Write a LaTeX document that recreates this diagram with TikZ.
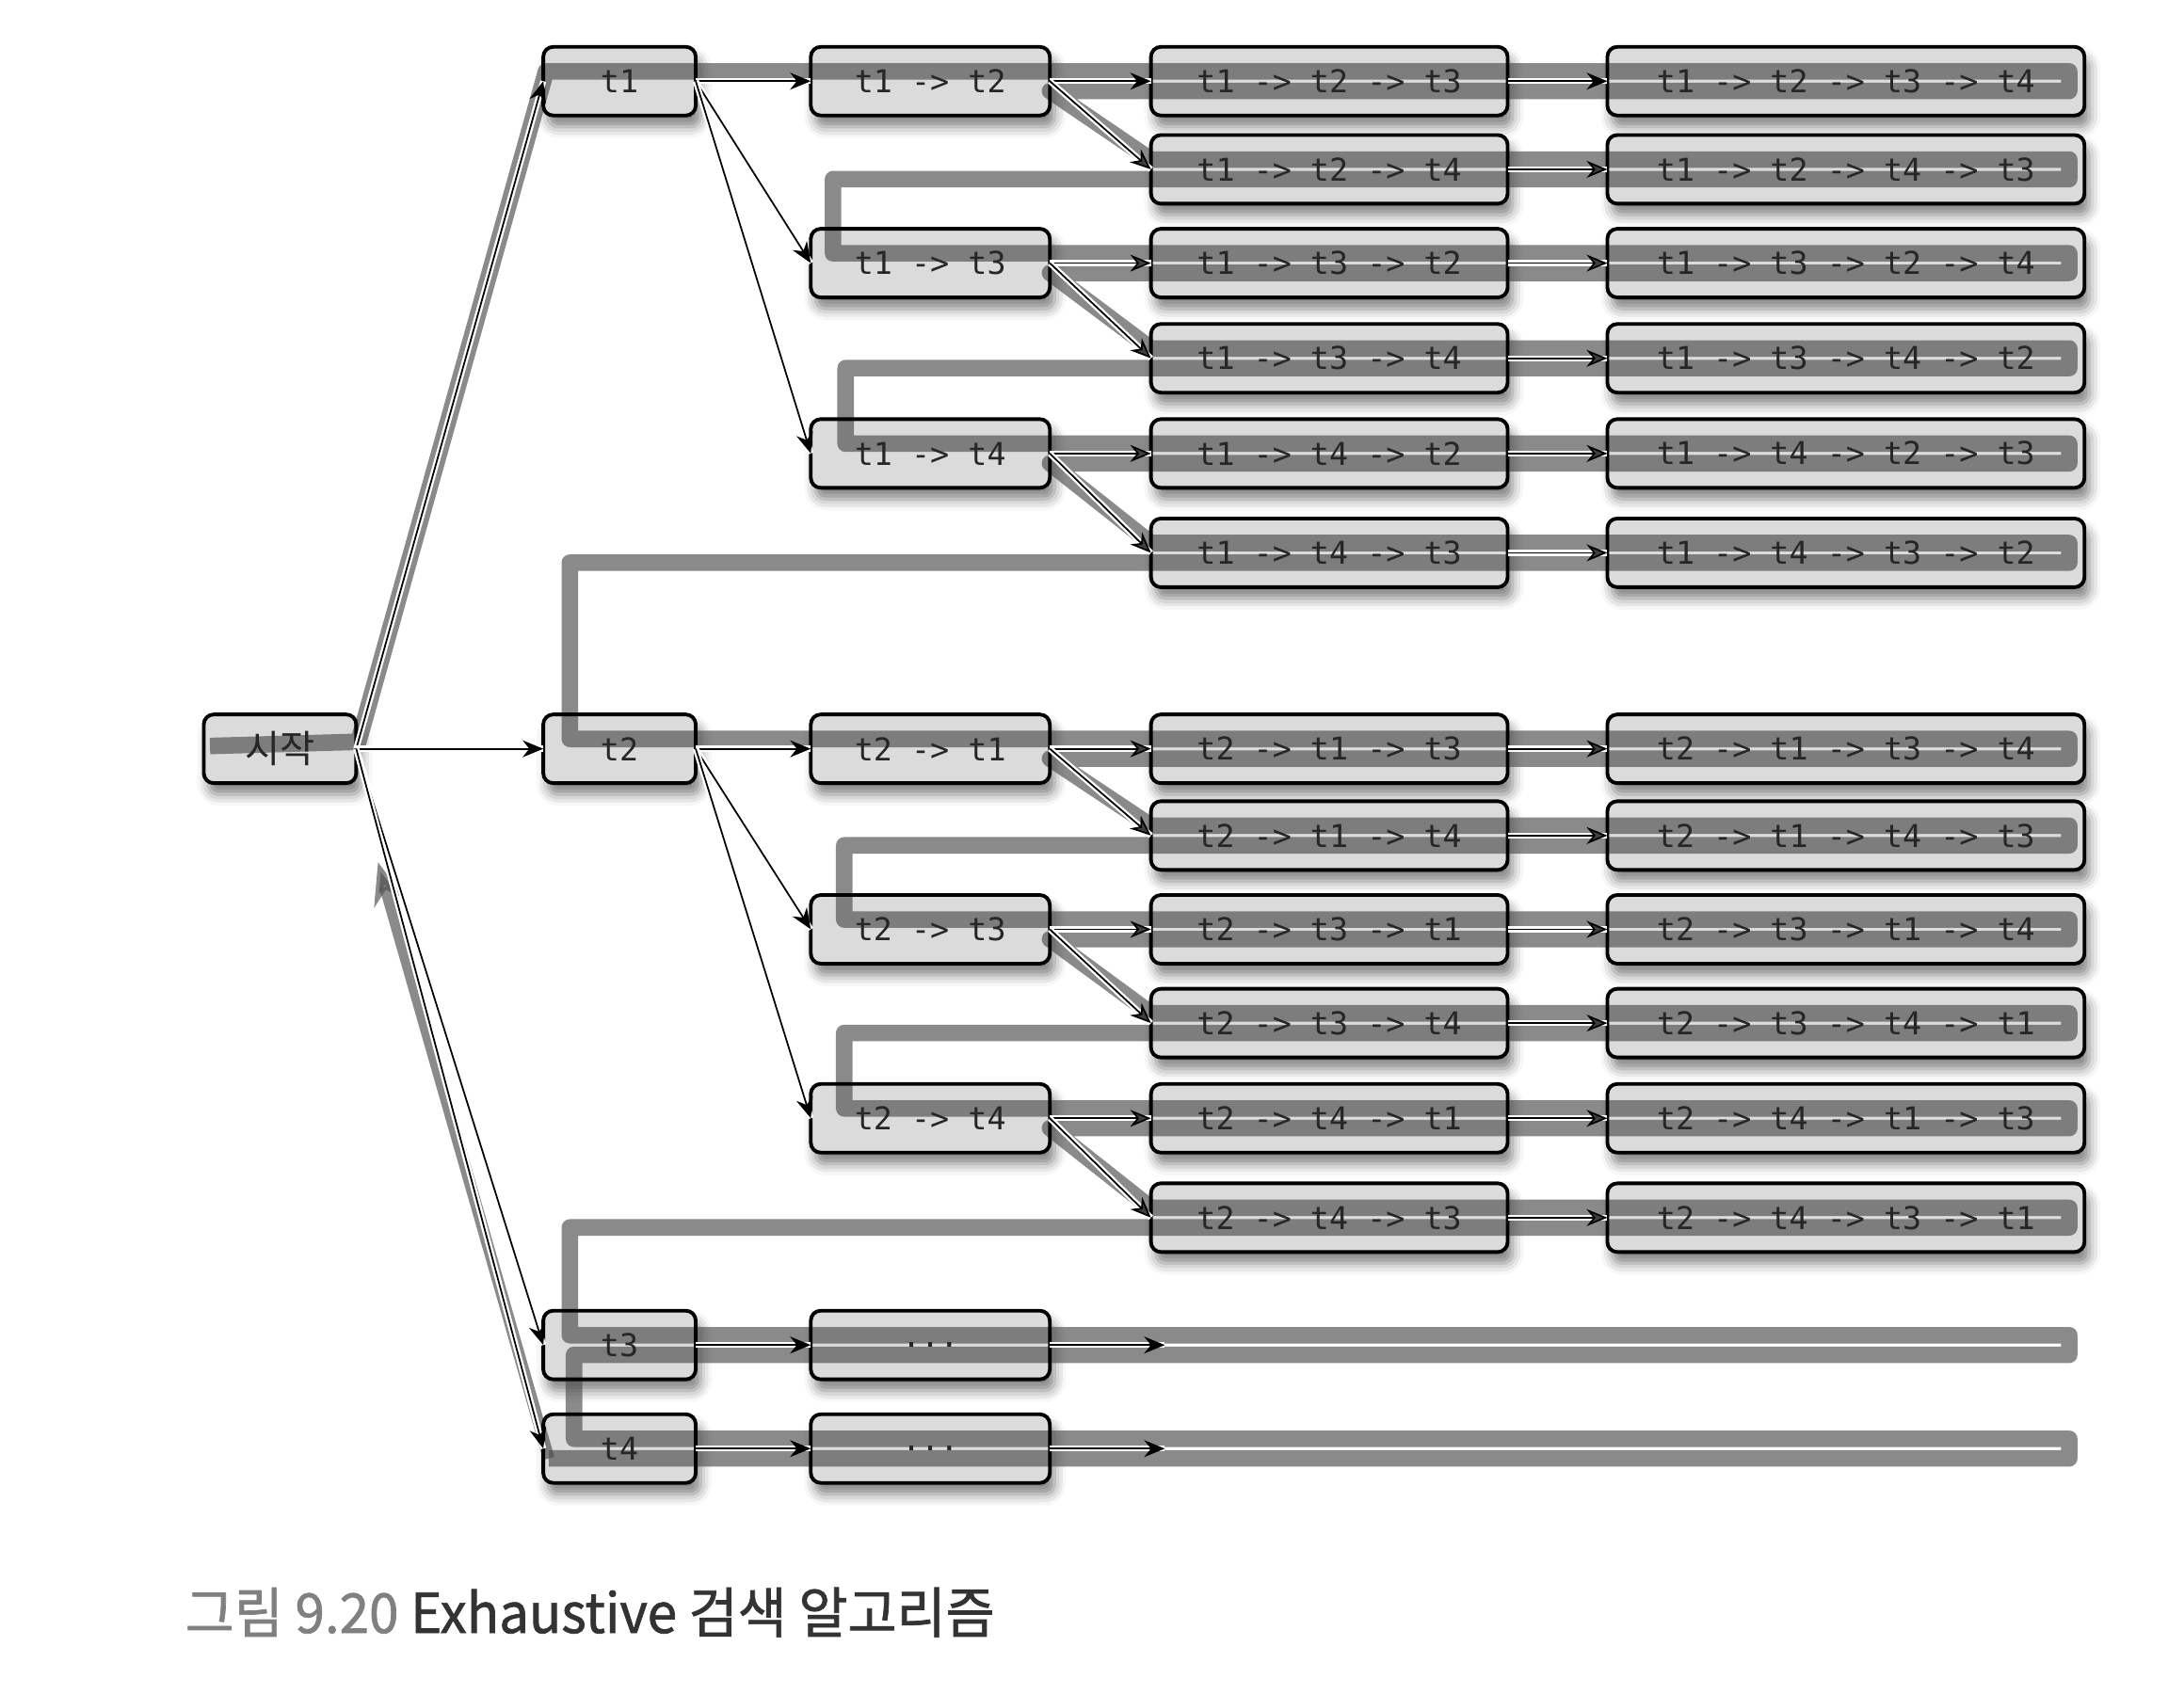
\documentclass[tikz,border=0pt]{standalone}
\usepackage{fontspec}
\newfontfamily\boxfont{DejaVu Sans Mono}
\newfontfamily\krfont{Noto Sans CJK KR}
\newfontfamily\capfont[FakeBold=1.2,FakeStretch=0.97]{Noto Sans CJK KR}
\usetikzlibrary{arrows.meta,shadows.blur}
\pgfdeclarelayer{fills}
\pgfdeclarelayer{tours}
\pgfsetlayers{fills,tours,main}

\tikzset{
  taskbox/.style={draw, line width=1.1pt, rounded corners=3pt, inner sep=0pt, outer sep=0pt,
    minimum height=0.73cm, text=black!85, font=\boxfont\fontsize{9.5}{11}\selectfont},
  lvone/.style={taskbox, minimum width=1.62cm},
  lvtwo/.style={taskbox, minimum width=2.54cm},
  lvthree/.style={taskbox, minimum width=3.79cm},
  lvfour/.style={taskbox, minimum width=5.07cm},
  boxfill/.style={fill=gray!28, rounded corners=3pt,
    blur shadow={shadow xshift=0.5mm, shadow yshift=-1.2mm, shadow blur radius=1.2mm, shadow opacity=50}},
  edgeline/.style={line width=0.5pt, -{Stealth[length=2.2mm,width=1.8mm]},
    preaction={draw=white, line width=1.8pt, -}},
  tour/.style={line width=5pt, black!70, opacity=0.65, line join=round},
}

\begin{document}
\begin{tikzpicture}[x=0.014872cm, y=-0.014872cm]
		\useasboundingbox (0,0) rectangle (1560,1210);
		% first column
		\node [lvone, font=\krfont\fontsize{11.5}{13}\selectfont] (start) at (200,535) {시작};
		\node [lvone] (t1) at (442.5,58) {t1};
		\node [lvone] (t2) at (442.5,535) {t2};
		\node [lvone] (t3) at (442.5,961) {t3};
		\node [lvone] (t4) at (442.5,1035) {t4};
		% second column
		\node [lvtwo] (t12) at (664.5,58) {t1 -> t2};
		\node [lvtwo] (t13) at (664.5,188) {t1 -> t3};
		\node [lvtwo] (t14) at (664.5,324) {t1 -> t4};
		\node [lvtwo] (t21) at (664.5,535) {t2 -> t1};
		\node [lvtwo] (t23) at (664.5,664) {t2 -> t3};
		\node [lvtwo] (t24) at (664.5,799) {t2 -> t4};
		\node [lvtwo] (t3x) at (664.5,961) {...};
		\node [lvtwo] (t4x) at (664.5,1035) {...};
		\coordinate (e3) at (832,961);
		\coordinate (e4) at (832,1035);
		% links
		\draw [edgeline] (start.east) to (t1.west);
		\draw [edgeline] (start.east) to (t2.west);
		\draw [edgeline] (start.east) to (t3.west);
		\draw [edgeline] (start.east) to (t4.west);
		\foreach \p in {2,3,4} \draw [edgeline] (t1.east) to (t1\p.west);
		\foreach \p in {1,3,4} \draw [edgeline] (t2.east) to (t2\p.west);
		\draw [edgeline] (t3.east) to (t3x.west);
		\draw [edgeline] (t4.east) to (t4x.west);
		\draw [edgeline] (t3x.east) to (e3);
		\draw [edgeline] (t4x.east) to (e4);
		% third and fourth column
		\foreach \a/\b/\c/\d/\y in {1/2/3/4/58, 1/2/4/3/121, 1/3/2/4/188, 1/3/4/2/256, 1/4/2/3/324, 1/4/3/2/395,
				2/1/3/4/535, 2/1/4/3/597, 2/3/1/4/664, 2/3/4/1/731, 2/4/1/3/799, 2/4/3/1/870} {
			\node [lvthree] (t\a\b\c) at (949.5,\y) {t\a{} -> t\b{} -> t\c};
			\node [lvfour] (t\a\b\c\d) at (1318.5,\y) {t\a{} -> t\b{} -> t\c{} -> t\d};
			\draw [edgeline] (t\a\b.east) to (t\a\b\c.west);
			\draw [edgeline] (t\a\b\c.east) to (t\a\b\c\d.west);
			\begin{pgfonlayer}{fills}
				\path [boxfill] (t\a\b\c.south west) rectangle (t\a\b\c.north east);
				\path [boxfill] (t\a\b\c\d.south west) rectangle (t\a\b\c\d.north east);
			\end{pgfonlayer}
		}
		\begin{pgfonlayer}{fills}
			\foreach \n in {start,t1,t2,t3,t4,t12,t13,t14,t21,t23,t24,t3x,t4x}
				\path [boxfill] (\n.south west) rectangle (\n.north east);
		\end{pgfonlayer}
		% search order
		\begin{pgfonlayer}{tours}
			\draw [tour] (150,533) -- (256,530) -- (390,51) -- (1478,51) -- (1478,65) -- (750,65)
				-- (822,114) -- (1478,114) -- (1478,128) -- (595,128) -- (595,181) -- (1478,181) -- (1478,195) -- (750,195)
				-- (822,249) -- (1478,249) -- (1478,263) -- (604,263) -- (604,317) -- (1478,317) -- (1478,331) -- (750,331)
				-- (822,388) -- (1478,388) -- (1478,402) -- (407,402) -- (407,528) -- (1478,528) -- (1478,542) -- (750,542)
				-- (822,590) -- (1478,590) -- (1478,604) -- (603,604) -- (603,657) -- (1478,657) -- (1478,671) -- (750,671)
				-- (822,724) -- (1478,724) -- (1478,738) -- (603,738) -- (603,792) -- (1478,792) -- (1478,806) -- (750,806)
				-- (822,863) -- (1478,863) -- (1478,877) -- (407,877) -- (407,954) -- (1478,954) -- (1478,968) -- (410,968)
				-- (410,1028) -- (1478,1028) -- (1478,1042) -- (392,1042);
			\draw [tour, line width=3.5pt, -{Stealth[length=4.5mm,width=3.4mm]}] (392,1042) -- (270,616);
		\end{pgfonlayer}
		% caption
		\node [anchor=west, text=black!80, font=\capfont\fontsize{16.6}{19}\selectfont] (caption) at (124,1152)
			{\textcolor{gray}{그림 9.20} Exhaustive 검색 알고리즘};
\end{tikzpicture}
\end{document}
